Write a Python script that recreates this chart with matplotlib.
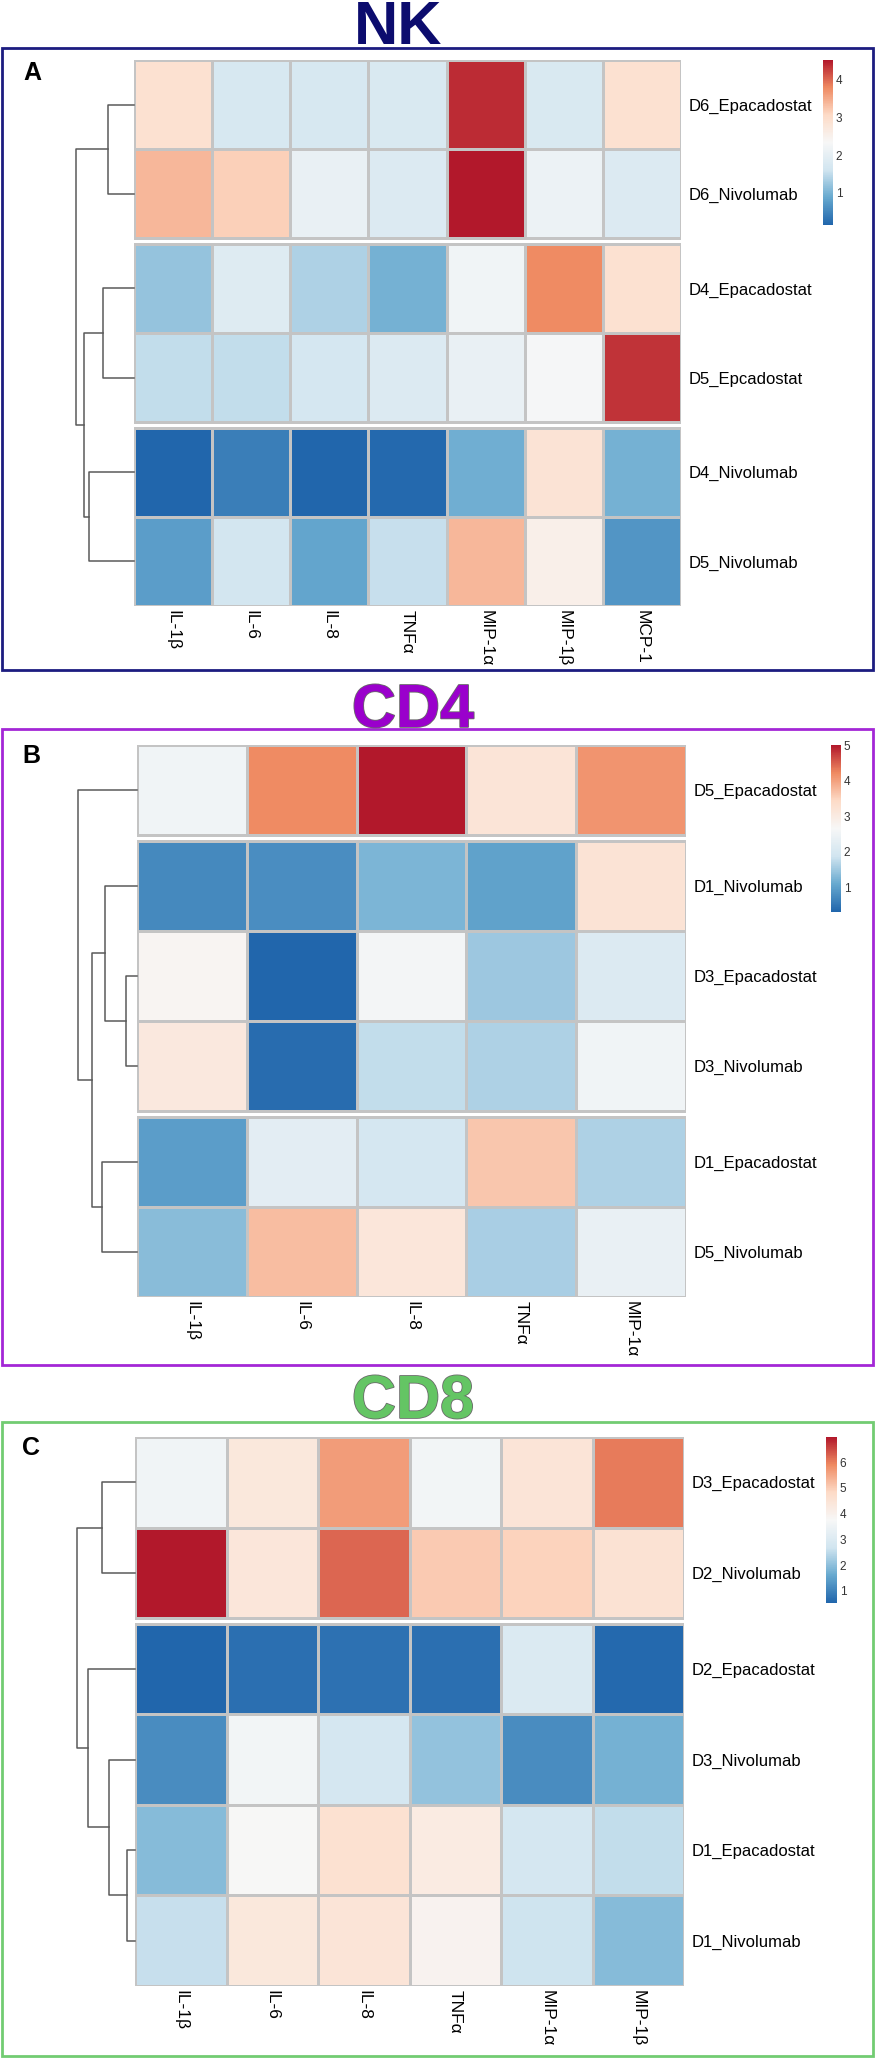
import numpy as np
import matplotlib
import matplotlib.pyplot as plt
from matplotlib import font_manager
from matplotlib.colors import LinearSegmentedColormap, Normalize
from matplotlib.cm import ScalarMappable
from matplotlib.patches import Rectangle
import matplotlib.patheffects as pe

# ---- data ----
nk_rows = ['D6_Epacadostat', 'D6_Nivolumab', 'D4_Epacadostat', 'D5_Epcadostat', 'D4_Nivolumab', 'D5_Nivolumab']
nk_cols = ['IL-1β', 'IL-6', 'IL-8', 'TNFα', 'MIP-1α', 'MIP-1β', 'MCP-1']
nk_vals = [[2.91, 1.73, 1.73, 1.77, 4.40, 1.77, 2.91],
           [3.39, 3.17, 2.08, 1.81, 4.53, 2.12, 1.81],
           [1.20, 1.86, 1.38, 0.98, 2.21, 3.79, 2.91],
           [1.51, 1.51, 1.68, 1.81, 2.08, 2.30, 4.35],
           [0.15, 0.41, 0.15, 0.20, 0.94, 2.87, 0.98],
           [0.76, 1.64, 0.85, 1.55, 3.39, 2.56, 0.68]]
nk_gaps = [2, 4]
# merges (left, right, relative height); leaves numbered in display order
nk_tree = [(0, 1, 0.45), (2, 3, 0.53), (4, 5, 0.78), (7, 8, 0.86), (6, 9, 1.0)]
nk_ticks = [1, 2, 3, 4]

cd4_rows = ['D5_Epacadostat', 'D1_Nivolumab', 'D3_Epacadostat', 'D3_Nivolumab', 'D1_Epacadostat', 'D5_Nivolumab']
cd4_cols = ['IL-1β', 'IL-6', 'IL-8', 'TNFα', 'MIP-1α']
cd4_vals = [[2.51, 4.20, 5.00, 3.17, 4.11],
            [0.72, 0.77, 1.24, 1.01, 3.21],
            [2.74, 0.30, 2.56, 1.48, 2.09],
            [3.07, 0.39, 1.76, 1.62, 2.51],
            [0.96, 2.23, 1.95, 3.64, 1.62],
            [1.33, 3.73, 3.12, 1.57, 2.37]]
cd4_gaps = [1, 4]
cd4_tree = [(2, 3, 0.19), (1, 6, 0.54), (4, 5, 0.59), (7, 8, 0.76), (0, 9, 1.0)]
cd4_ticks = [1, 2, 3, 4, 5]

cd8_rows = ['D3_Epacadostat', 'D2_Nivolumab', 'D2_Epacadostat', 'D3_Nivolumab', 'D1_Epacadostat', 'D1_Nivolumab']
cd8_cols = ['IL-1β', 'IL-6', 'IL-8', 'TNFα', 'MIP-1α', 'MIP-1β']
cd8_vals = [[3.56, 4.34, 5.64, 3.62, 4.47, 6.03],
            [6.97, 4.40, 6.22, 5.05, 4.92, 4.53],
            [0.53, 0.70, 0.73, 0.70, 2.97, 0.60],
            [1.15, 3.62, 2.78, 2.06, 1.15, 1.74],
            [1.93, 3.75, 4.60, 4.21, 2.78, 2.52],
            [2.58, 4.34, 4.47, 3.95, 2.65, 1.93]]
cd8_gaps = [2]
cd8_tree = [(4, 5, 0.14), (3, 6, 0.45), (0, 1, 0.57), (2, 7, 0.81), (8, 9, 1.0)]
cd8_ticks = [1, 2, 3, 4, 5, 6]

# pheatmap style palette (RdBu, 7 classes, reversed)
cmap = LinearSegmentedColormap.from_list(
    'rdbu7', ['#2166AC', '#67A9CF', '#D1E5F0', '#F7F7F7', '#FDDBC7', '#EF8A62', '#B2182B'])

names = {f.name for f in font_manager.fontManager.ttflist}
narrow = 'Liberation Sans Narrow' in names
lab_font = ['Liberation Sans Narrow', 'DejaVu Sans'] if narrow else ['Liberation Sans', 'DejaVu Sans']
lab_size = 13.5 if narrow else 12
plt.rcParams['font.family'] = ['Liberation Sans', 'DejaVu Sans']

W, H = 875, 2058
fig = plt.figure(figsize=(W / 100, H / 100), dpi=100)


def ax_at(x0, y0, x1, y1):
    return fig.add_axes([x0 / W, 1 - y1 / H, (x1 - x0) / W, (y1 - y0) / H])


def panel(rows, cols, vals, gaps, tree, ticks, hm, cb, root_x):
    vals = np.array(vals)
    n, m = vals.shape
    g = 0.06
    tops = np.arange(n) + g * np.array([sum(1 for k in gaps if k <= i) for i in range(n)])
    total = tops[-1] + 1
    norm = Normalize(vals.min(), vals.max())

    ax = ax_at(*hm)
    # draw each cluster block separately so the gaps stay white
    starts = [0] + list(gaps)
    ends = list(gaps) + [n]
    for s, e in zip(starts, ends):
        ye = np.append(tops[s:e], tops[e - 1] + 1)
        ax.pcolormesh(np.arange(m + 1), ye, vals[s:e], cmap=cmap, norm=norm,
                      edgecolors='#c4c4c4', linewidth=0.8)
    ax.set_xlim(0, m)
    ax.set_ylim(total, 0)
    for sp in ax.spines.values():
        sp.set_visible(False)
    ax.yaxis.tick_right()
    ax.set_yticks(tops + 0.5)
    ax.set_yticklabels(rows, family=lab_font, fontsize=lab_size)
    ax.set_xticks(np.arange(m) + 0.5)
    ax.set_xticklabels(cols, rotation=270, ha='center', va='top', fontsize=12.5)
    ax.tick_params(axis='y', length=0, pad=5.5)
    ax.tick_params(axis='x', length=0, pad=3)

    # dendrogram
    dax = ax_at(root_x, hm[1], hm[0], hm[3])
    pos = {i: (0.0, t + 0.5) for i, t in enumerate(tops)}
    k = n
    for a, b, h in tree:
        ha, ya = pos[a]
        hb, yb = pos[b]
        dax.plot([ha, h, h, hb], [ya, ya, yb, yb], color='#5a5a5a', lw=1.1, clip_on=False)
        pos[k] = (h, (ya + yb) / 2)
        k += 1
    dax.set_xlim(1, 0)
    dax.set_ylim(total, 0)
    dax.axis('off')

    # legend colour bar
    cax = ax_at(*cb)
    cbar = fig.colorbar(ScalarMappable(norm=norm, cmap=cmap), cax=cax, ticks=ticks)
    cbar.outline.set_visible(False)
    cax.tick_params(length=0, pad=2, labelsize=8.5, colors='#333333')
    for t in cax.get_yticklabels():
        t.set_family(lab_font)


def frame(y0, y1, color):
    fig.add_artist(Rectangle((2 / W, 1 - y1 / H), 871 / W, (y1 - y0) / H, transform=fig.transFigure,
                             fill=False, ec=color, lw=2.0))


def title(txt, x, y, color, outline):
    kw = {}
    if outline:
        kw['path_effects'] = [pe.withStroke(linewidth=1.2, foreground='#6a6a6a')]
    fig.text(x / W, 1 - y / H, txt, ha='center', va='baseline', fontsize=44,
             weight='bold', color=color, **kw)


def letter(txt, x, y):
    fig.text(x / W, 1 - y / H, txt, ha='left', va='baseline', fontsize=18, weight='bold')


# NK
title('NK', 398, 44, '#0c0c6e', False)
frame(48, 670, '#1c1c80')
letter('A', 23, 80)
panel(nk_rows, nk_cols, nk_vals, nk_gaps, nk_tree, nk_ticks,
      (134, 60, 681, 606), (823, 60, 833, 225), 76)

# CD4
title('CD4', 413, 727, '#9a00cc', True)
frame(729, 1365, '#a327d6')
letter('B', 22, 763)
panel(cd4_rows, cd4_cols, cd4_vals, cd4_gaps, cd4_tree, cd4_ticks,
      (137, 745, 686, 1297), (831, 745, 841, 912), 78)

# CD8
title('CD8', 413, 1418, '#64c564', True)
frame(1422, 2056, '#72cc72')
letter('C', 22, 1455)
panel(cd8_rows, cd8_cols, cd8_vals, cd8_gaps, cd8_tree, cd8_ticks,
      (135, 1437, 684, 1986), (826, 1437, 837, 1603), 77)

plt.savefig('out.png', dpi=100)
